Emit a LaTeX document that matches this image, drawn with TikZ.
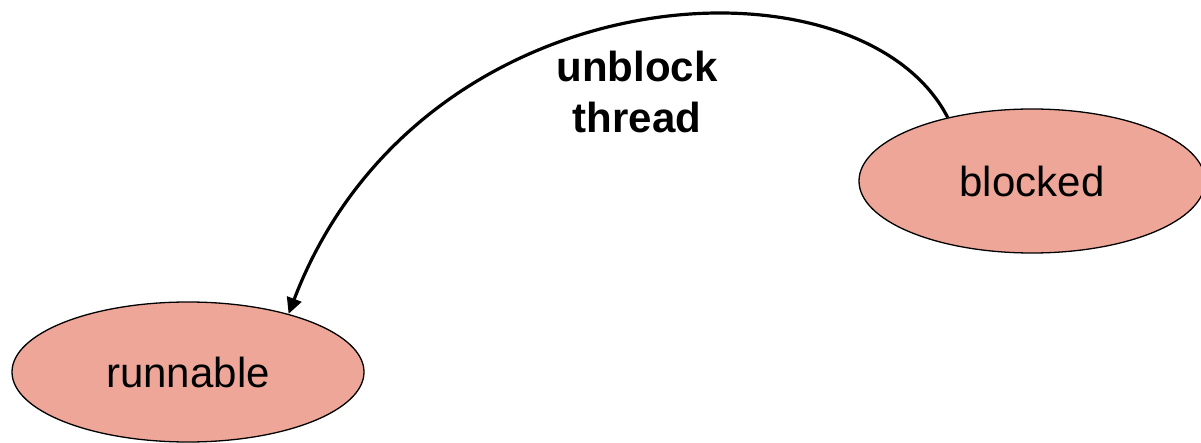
\documentclass[tikz,border=0pt]{standalone}
\usepackage{fontspec}
\setmainfont{Liberation Sans}
\usetikzlibrary{shapes.geometric,arrows.meta}
\definecolor{statefill}{RGB}{238,166,153}
\tikzset{
  state/.style={ellipse, draw=black, line width=1.3pt, fill=statefill, inner sep=0pt,
    font=\fontsize{42}{50}\selectfont},
  trans/.style={line width=3.2pt, -{Triangle[length=16pt,width=15pt]}},
  lbl/.style={font=\fontsize{42}{51}\selectfont\bfseries, align=center, inner sep=0pt}
}
\begin{document}
\begin{tikzpicture}[x=1pt,y=-1pt]
\useasboundingbox (0,0) rectangle (1201,443);
\node[state, minimum width=352pt, minimum height=140pt] (runnable) at (188,372) {runnable};
\node[state, minimum width=346pt, minimum height=144pt] (blocked) at (1032,181) {blocked};
\node[lbl] (label) at (637,92) {unblock\\thread};
\draw[trans] (blocked.143) .. controls (860,-53) and (420,-30) .. (runnable.30);
\end{tikzpicture}
\end{document}
